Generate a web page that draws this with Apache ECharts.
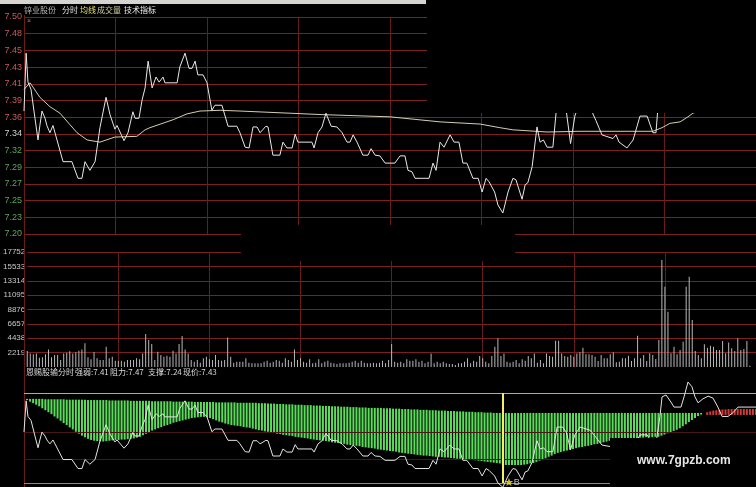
<!DOCTYPE html>
<html><head><meta charset="utf-8">
<script src="https://cdn.jsdelivr.net/npm/echarts/dist/echarts.min.js"></script>
<style>html,body{margin:0;padding:0;background:#000;}#c{width:756px;height:487px;}</style>
</head><body><div id="c"></div>
<script>
// ---------- data ----------
const stockName = '锌业股份';
const indicatorName = '恩赐股输分时';
const strength = 7.41, resistance = 7.47, support = 7.24, lastPrice = 7.43;
const preClose = 7.34;
const buyMinute = 157;
const sellPoint = [217.7, 7.498];

const priceTicks = ['7.50','7.48','7.45','7.43','7.41','7.39','7.36','7.34','7.32','7.29','7.27','7.25','7.23','7.20'];
const priceMin = 7.20, priceMax = 7.50;
const volumeMax = 17752, volumeStep = 2219;

// [minute, price]
const pricePoints = [[0,7.37],[0.7,7.45],[1.3,7.41],[2.3,7.40],[3.6,7.36],[4.6,7.33],[5.2,7.35],[5.9,7.37],[6.9,7.36],[7.5,7.35],[8.5,7.34],[9.5,7.35],[12.8,7.30],[15.7,7.30],[17.7,7.277],[19,7.277],[20,7.30],[21.6,7.288],[23.3,7.30],[23.9,7.30],[24.9,7.347],[26.9,7.389],[28.2,7.365],[29.8,7.345],[30.5,7.35],[32.8,7.329],[34.1,7.34],[35.7,7.369],[36.4,7.36],[37.7,7.36],[38.7,7.385],[39.7,7.402],[40.7,7.439],[42,7.402],[43.3,7.417],[44.3,7.41],[45.6,7.417],[46.2,7.409],[50.2,7.409],[51.1,7.431],[52.8,7.45],[54.1,7.429],[55.1,7.429],[56.1,7.439],[57,7.42],[58.7,7.42],[60,7.409],[61.6,7.371],[62.6,7.378],[64.9,7.378],[66.9,7.349],[69.8,7.349],[70.8,7.34],[72.5,7.32],[73.8,7.319],[75.1,7.348],[76.4,7.348],[77.4,7.34],[79.3,7.349],[80,7.348],[81.6,7.309],[83.9,7.309],[84.9,7.327],[86.2,7.319],[87.9,7.319],[88.9,7.338],[89.8,7.327],[94.4,7.327],[95.1,7.319],[96.4,7.34],[97.7,7.348],[99,7.367],[100.7,7.349],[102.6,7.348],[104.3,7.34],[105.9,7.327],[106.9,7.327],[107.9,7.337],[109.2,7.327],[111.1,7.309],[112.8,7.309],[113.8,7.318],[115.1,7.309],[116.7,7.308],[118.4,7.298],[121.6,7.298],[123.3,7.308],[124.9,7.308],[125.9,7.288],[127.2,7.286],[128.2,7.277],[132.8,7.277],[134.1,7.298],[135.1,7.288],[136.4,7.327],[137.7,7.32],[139.7,7.337],[141,7.327],[142.6,7.327],[143.9,7.298],[145.2,7.298],[147.2,7.277],[148.9,7.277],[150.2,7.258],[151.5,7.277],[152.5,7.272],[154.3,7.258],[155.4,7.24],[157,7.229],[158.7,7.258],[160.3,7.277],[161.3,7.275],[163.3,7.248],[164.3,7.268],[165.2,7.271],[166.6,7.293],[168.2,7.348],[169.2,7.327],[170.3,7.33],[171.5,7.32],[173.4,7.32],[174.8,7.383],[176.6,7.383],[177.8,7.37],[179.2,7.325],[180.6,7.363],[182.3,7.383],[185.6,7.375],[187.5,7.357],[189.5,7.337],[193.1,7.332],[194.1,7.337],[195.1,7.327],[197.7,7.319],[199.7,7.33],[201.96,7.363],[204.3,7.363],[206.2,7.34],[207.2,7.34],[208.5,7.41],[209.2,7.46],[210.5,7.465],[212.1,7.447],[213.1,7.434],[215.4,7.434],[216.4,7.46],[217.7,7.498],[219,7.486],[220,7.46],[221,7.445],[222.6,7.455],[224.3,7.462],[225.9,7.457],[227.5,7.434],[228.9,7.41],[230.8,7.41],[232.5,7.42],[234.1,7.434],[240,7.434]];

// [minute, average price]
const avgPoints = [[0,7.40],[2,7.409],[5.2,7.389],[8.5,7.376],[11.8,7.367],[15.1,7.351],[17.4,7.34],[20.7,7.33],[24.9,7.327],[29.8,7.334],[37,7.335],[39.7,7.344],[41.3,7.347],[48.9,7.358],[53.4,7.366],[57.7,7.37],[64.3,7.371],[70.8,7.37],[87.2,7.367],[98,7.365],[120,7.362],[136.4,7.355],[149.5,7.352],[156,7.347],[160.3,7.344],[171.5,7.341],[182.3,7.342],[198.7,7.342],[206.2,7.342],[209.2,7.347],[211.8,7.353],[215.1,7.355],[217.7,7.362],[219.3,7.367],[225,7.375],[240,7.385]];

// volume per minute
const volumes = [2470,2100,1950,2100,1440,1490,1950,2720,1490,1850,1850,1080,2100,2210,2420,2100,2260,2520,2720,3650,1490,1180,2310,1340,1080,1080,3140,1340,1590,980,980,980,820,1080,1080,1080,1340,1180,2100,5090,4160,3550,1080,2360,1850,1590,1750,1590,2520,2100,3550,4780,2720,2100,1080,820,1080,670,1340,1590,1180,
1080,1850,1080,980,1080,4570,1590,670,820,820,820,1340,670,570,570,570,570,820,980,670,820,1080,980,670,1340,1080,820,2720,1080,1340,820,670,1180,570,670,1180,570,820,980,670,570,460,570,570,570,670,820,980,670,980,670,570,570,670,570,670,980,570,1080,3550,
820,670,820,570,1180,980,980,1180,820,980,570,820,2100,570,820,570,820,570,460,460,310,570,570,820,1340,570,980,820,1700,1340,820,570,1700,3140,4420,1700,2100,820,670,820,1080,570,1180,980,1700,1340,2100,670,1080,570,2100,1700,1590,4060,4060,2100,1700,1590,1850,1590,2100,
2260,2980,1950,1950,1850,1590,930,1850,1340,1340,1950,2260,720,820,1340,1340,1750,930,1340,4830,1340,1850,930,2110,1850,1230,4160,16500,12390,8530,2110,3140,1950,2620,3910,12390,13930,7250,2470,1850,1340,3500,2980,3290,3140,2620,2620,4010,2110,3800,2880,2470,4420,2620,2780,4010,210];

// indicator strip: upper edge (strength line) and lower edge per minute
const stripTop = [7.455,7.455,7.455,7.455,7.455,7.455,7.455,7.454,7.454,7.454,7.454,7.454,7.454,7.454,7.453,7.453,7.453,7.453,7.453,7.453,7.453,7.452,7.452,7.452,7.452,7.452,7.452,7.452,7.451,7.451,7.451,7.451,7.451,7.451,7.451,7.450,7.450,7.450,7.450,7.450,7.450,7.450,7.449,7.449,7.449,7.449,7.449,7.449,7.449,7.448,7.448,7.448,7.448,7.448,7.448,7.448,7.447,7.447,7.447,7.447,7.447,7.447,7.447,7.446,7.446,7.446,7.446,7.446,7.446,7.446,7.445,7.445,7.445,7.445,7.445,7.445,7.445,7.444,7.444,7.444,7.443,7.443,7.443,7.442,7.442,7.442,7.441,7.441,7.441,7.440,7.440,7.440,7.439,7.439,7.439,7.438,7.438,7.438,7.437,7.437,7.437,7.436,7.436,7.436,7.435,7.435,7.435,7.434,7.434,7.434,7.433,7.433,7.433,7.432,7.432,7.432,7.432,7.432,7.431,7.431,7.431,7.430,7.430,7.430,7.429,7.429,7.429,7.428,7.428,7.428,7.427,7.427,7.427,7.426,7.426,7.426,7.425,7.425,7.425,7.424,7.424,7.424,7.423,7.423,7.423,7.422,7.422,7.422,7.421,7.421,7.421,7.420,7.420,7.420,7.419,7.419,7.419,7.419,7.419,7.419,7.419,7.419,7.419,7.419,7.419,7.419,7.419,7.419,7.419,7.419,7.419,7.419,7.419,7.419,7.419,7.419,7.419,7.419,7.419,7.419,7.419,7.419,7.419,7.419,7.419,7.419,7.419,7.419,7.419,7.419,7.419,7.419,7.419,7.419,7.419,7.419,7.419,7.419,7.419,7.419,7.419,7.419,7.419,7.419,7.419,7.419,7.419,7.419,7.419,7.419,7.419,7.419,7.419,7.419,7.419,7.419,7.419,7.419,7.419,7.419,7.419,7.419,7.419,7.419,7.414,7.414,7.414,7.414,7.414,7.414,7.414,7.414,7.414,7.414,7.414,7.414,7.414,7.414,7.414,7.414,7.414,7.414,7.414];
const stripBottom = [7.455,7.452,7.448,7.444,7.440,7.436,7.431,7.426,7.421,7.416,7.410,7.405,7.399,7.393,7.388,7.382,7.377,7.371,7.366,7.361,7.357,7.353,7.350,7.348,7.347,7.346,7.346,7.347,7.348,7.349,7.350,7.350,7.351,7.351,7.352,7.353,7.354,7.356,7.358,7.362,7.366,7.370,7.374,7.377,7.380,7.383,7.386,7.388,7.391,7.394,7.396,7.398,7.400,7.402,7.404,7.406,7.407,7.408,7.409,7.409,7.408,7.406,7.403,7.400,7.397,7.395,7.392,7.390,7.388,7.387,7.386,7.385,7.383,7.382,7.381,7.379,7.377,7.375,7.374,7.372,7.371,7.369,7.368,7.366,7.365,7.363,7.362,7.361,7.360,7.358,7.357,7.356,7.355,7.354,7.352,7.351,7.350,7.349,7.348,7.347,7.346,7.344,7.343,7.342,7.341,7.340,7.338,7.337,7.336,7.335,7.334,7.332,7.331,7.330,7.329,7.328,7.326,7.325,7.324,7.323,7.322,7.321,7.320,7.318,7.317,7.316,7.315,7.314,7.313,7.312,7.311,7.310,7.310,7.309,7.308,7.307,7.307,7.306,7.305,7.305,7.304,7.303,7.302,7.302,7.301,7.300,7.299,7.299,7.298,7.297,7.296,7.295,7.294,7.293,7.292,7.291,7.290,7.286,7.286,7.286,7.286,7.286,7.286,7.286,7.287,7.288,7.290,7.291,7.294,7.297,7.300,7.303,7.307,7.310,7.314,7.317,7.319,7.321,7.323,7.325,7.327,7.329,7.331,7.332,7.334,7.335,7.337,7.339,7.340,7.342,7.344,7.346,7.348,7.349,7.350,7.351,7.352,7.353,7.354,7.354,7.355,7.355,7.356,7.356,7.357,7.357,7.357,7.358,7.358,7.361,7.364,7.367,7.370,7.373,7.376,7.380,7.385,7.390,7.396,7.401,7.406,7.411,7.415,7.419,7.421,7.423,7.425,7.426,7.427,7.428,7.428,7.429,7.429,7.429,7.429,7.429,7.429,7.429,7.429,7.429,7.429];
const indicatorGuides = [7.368, 7.301];

// ---------- chart ----------
const chart = echarts.init(document.getElementById('c'), null, {renderer: 'canvas'});
const RED_GRID = '#7e1f1f';
const num = 'Liberation Sans';
const cjk = 'Noto Sans CJK SC';

const xAxes = [0, 1, 2].map(i => ({
  type: 'value', gridIndex: i, min: 0, max: 240, interval: 30,
  axisLine: {show: false}, axisTick: {show: false}, axisLabel: {show: false},
  splitLine: {show: i < 2, showMinLine: false, showMaxLine: false, lineStyle: {color: '#6a1b1b', width: 1}}
}));

const option = {
  backgroundColor: '#000',
  animation: false,
  grid: [
    {left: 24, right: 0, top: 17, height: 217},
    {left: 24, right: 0, top: 252, height: 115},
    {left: 24, right: 0, top: 393, height: 90}
  ],
  xAxis: xAxes,
  yAxis: [
    {type: 'value', gridIndex: 0, min: priceMin, max: priceMax, show: false, position: 'right'},
    {type: 'category', gridIndex: 0, position: 'left', data: priceTicks, inverse: true, boundaryGap: false,
     axisLine: {show: false}, axisTick: {show: false},
     axisLabel: {interval: 0, fontSize: 9, fontFamily: num, margin: 2,
       color: v => (+v > preClose ? '#c85a5a' : (+v < preClose ? '#5aa85a' : '#d0d0d0'))},
     splitLine: {show: true, interval: 0, lineStyle: {color: RED_GRID, width: 1}}},
    {type: 'value', gridIndex: 1, position: 'left', min: 0, max: volumeMax, interval: volumeStep,
     axisLine: {show: false}, axisTick: {show: false},
     axisLabel: {fontSize: 8, fontFamily: num, margin: 2, color: '#c8c8c8', showMinLabel: false,
       formatter: v => String(v)},
     splitLine: {show: true, showMinLine: false, lineStyle: {color: RED_GRID, width: 1}}},
    {type: 'value', gridIndex: 2, min: support, max: resistance, show: false}
  ],
  series: [
    {type: 'line', name: '均价', xAxisIndex: 0, yAxisIndex: 0, data: avgPoints, symbol: 'none',
     lineStyle: {color: '#d6ceb0', width: 1}, z: 3},
    {type: 'line', name: '价格', xAxisIndex: 0, yAxisIndex: 0, data: pricePoints, symbol: 'none',
     lineStyle: {color: '#e8e8e8', width: 1}, z: 4},
    {type: 'bar', name: '成交量', xAxisIndex: 1, yAxisIndex: 2, data: volumes.map((v, i) => [i, v]),
     barWidth: 1, itemStyle: {color: '#b8b8b8'}, z: 3},
    {type: 'custom', name: '强弱', xAxisIndex: 2, yAxisIndex: 3,
     data: stripTop.map((u, i) => [i, u, stripBottom[i]]),
     encode: {x: 0, y: [1, 2]},
     renderItem: (params, api) => {
       const t = api.value(0), u = api.value(1), l = api.value(2);
       const a = api.coord([t, u]), b = api.coord([t, l]);
       return {type: 'rect',
         shape: {x: a[0] - 1, y: Math.min(a[1], b[1]), width: 2, height: Math.abs(b[1] - a[1])},
         style: {fill: l <= u ? '#5ade5a' : '#d23a3a'}};
     }, z: 2},
    {type: 'line', name: '指标价格', xAxisIndex: 2, yAxisIndex: 3, data: pricePoints, symbol: 'none', clip: false,
     lineStyle: {color: '#e4e4e4', width: 1}, z: 5,
     markLine: {silent: true, symbol: 'none', label: {show: false},
       data: [
         {yAxis: resistance, lineStyle: {color: '#9fb29f', width: 1, type: 'solid'}},
         {yAxis: support, lineStyle: {color: '#8a8a8a', width: 1, type: 'solid'}},
         {yAxis: indicatorGuides[0], lineStyle: {color: '#4a1616', width: 1, type: 'solid'}},
         {yAxis: indicatorGuides[1], lineStyle: {color: '#4a1616', width: 1, type: 'solid'}},
         {xAxis: buyMinute, lineStyle: {color: '#f4f060', width: 2, type: 'solid'}}
       ]}},
    {type: 'scatter', xAxisIndex: 2, yAxisIndex: 3, data: [[buyMinute, support]], symbolSize: 0, z: 6,
     label: {show: true, position: 'inside', offset: [9, 0],
       formatter: '{s|★}{b|B}',
       rich: {s: {color: '#ffe840', fontSize: 11, fontFamily: 'DejaVu Sans'}, b: {color: '#e8e8e8', fontSize: 9, fontFamily: num}}}},
    {type: 'scatter', xAxisIndex: 2, yAxisIndex: 3, data: [sellPoint], symbolSize: 0, z: 6,
     label: {show: true, position: 'inside', offset: [5, 0], formatter: '^',
       color: '#e04848', fontSize: 9, fontFamily: num}}
  ],
  graphic: [
    {type: 'rect', shape: {x: 0, y: 0, width: 426, height: 4}, style: {fill: '#d6d4d0'}, z: 100},
    {type: 'rect', shape: {x: 427, y: 0, width: 329, height: 113}, style: {fill: '#000'}, z: 100},
    {type: 'rect', shape: {x: 241, y: 225, width: 274, height: 36}, style: {fill: '#000'}, z: 100},
    {type: 'rect', shape: {x: 610, y: 438, width: 146, height: 49}, style: {fill: '#000'}, z: 100},
    {type: 'line', shape: {x1: 24.5, y1: 15, x2: 24.5, y2: 487}, style: {stroke: '#6a1b1b', lineWidth: 1}, z: 1},
    {type: 'text', left: 27, top: 18, style: {text: '×', fill: '#d07070', font: '7px "Liberation Sans"'}, z: 101},
    {type: 'text', left: 24, top: 6, style: {text: stockName, fill: '#b4b4b4', font: '8px "' + cjk + '"'}, z: 101},
    {type: 'text', left: 62, top: 6, style: {text: '分时', fill: '#e0e0e0', font: '8px "' + cjk + '"'}, z: 101},
    {type: 'text', left: 80, top: 6, style: {text: '均线', fill: '#e6e070', font: '8px "' + cjk + '"'}, z: 101},
    {type: 'text', left: 97, top: 6, style: {text: '成交量', fill: '#cfcf98', font: '8px "' + cjk + '"'}, z: 101},
    {type: 'text', left: 124, top: 6, style: {text: '技术指标', fill: '#f0f0f0', font: '8px "' + cjk + '"'}, z: 101},
    {type: 'text', left: 26, top: 368, style: {text: indicatorName, fill: '#d8d8d8', font: '8px "' + cjk + '"'}, z: 101},
    {type: 'text', left: 75, top: 368, style: {text: '强弱:' + strength.toFixed(2), fill: '#d8d8d8', font: '8px "' + cjk + '"'}, z: 101},
    {type: 'text', left: 110, top: 368, style: {text: '阻力:' + resistance.toFixed(2), fill: '#d8d8d8', font: '8px "' + cjk + '"'}, z: 101},
    {type: 'text', left: 148, top: 368, style: {text: '支撑:' + support.toFixed(2), fill: '#d8d8d8', font: '8px "' + cjk + '"'}, z: 101},
    {type: 'text', left: 183, top: 368, style: {text: '现价:' + lastPrice.toFixed(2), fill: '#d8d8d8', font: '8px "' + cjk + '"'}, z: 101},
    {type: 'text', left: 637, top: 455, style: {text: 'www.7gpzb.com', fill: '#e6e6e6', font: 'bold 12px "Liberation Sans"'}, z: 101}
  ]
};
chart.setOption(option);
</script></body></html>
